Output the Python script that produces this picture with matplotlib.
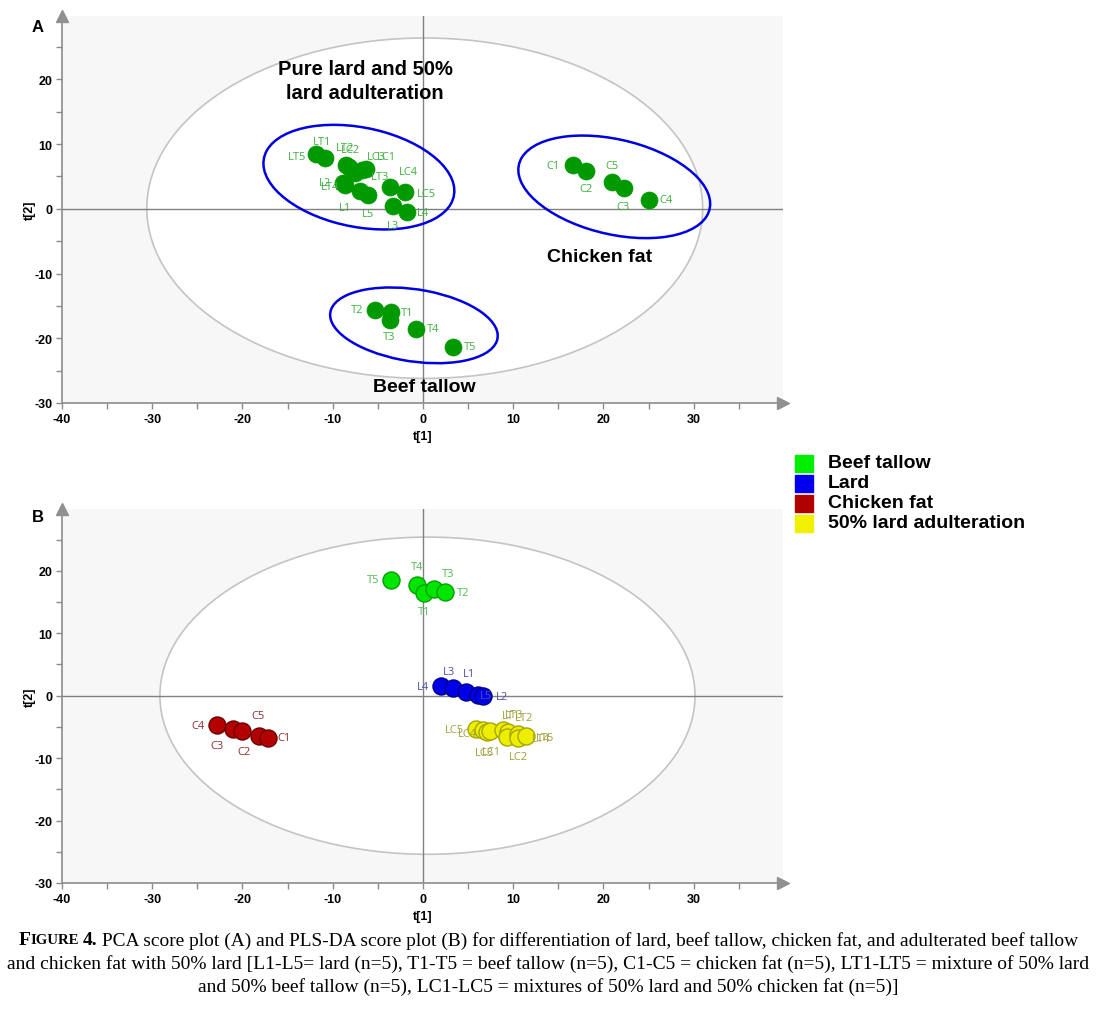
import numpy as np
import matplotlib
matplotlib.use("Agg")
import matplotlib.pyplot as plt
from matplotlib.patches import Ellipse, Rectangle

plt.rcParams["axes.unicode_minus"] = False

# ---- panel A (PCA) scores ----
pca_names = ["LT5", "LT1", "LT2", "LC2", "LC1", "LC3", "LT3", "L2", "LT4", "L1",
             "L5", "L3", "L4", "LC4", "LC5",
             "T2", "T1", "T3", "T4", "T5",
             "C1", "C2", "C5", "C3", "C4"]
pca_t1 = [-11.8, -10.8, -8.5, -8.2, -6.3, -6.8, -7.5, -8.9, -8.65, -7.0,
          -6.1, -3.3, -1.8, -3.7, -2.0,
          -5.3, -3.5, -3.7, -0.8, 3.3,
          16.6, 18.1, 20.9, 22.3, 25.0]
pca_t2 = [8.4, 7.8, 6.7, 6.4, 6.2, 6.0, 5.6, 4.0, 3.7, 2.8,
          2.1, 0.5, -0.5, 3.4, 2.6,
          -15.6, -16.0, -17.2, -18.5, -21.3,
          6.7, 5.9, 4.1, 3.2, 1.4]

# ---- panel B (PLS-DA) scores ----
tallow_names = ["T5", "T4", "T1", "T3", "T2"]
tallow_t1 = [-3.5, -0.7, 0.1, 1.2, 2.4]
tallow_t2 = [18.6, 17.8, 16.4, 17.1, 16.6]

lard_names = ["L4", "L3", "L1", "L5", "L2"]
lard_t1 = [2.05, 3.3, 4.8, 6.1, 6.65]
lard_t2 = [1.55, 1.3, 0.6, 0.15, -0.05]

chicken_names = ["C4", "C3", "C2", "C5", "C1"]
chicken_t1 = [-22.8, -21.0, -20.0, -18.2, -17.2]
chicken_t2 = [-4.75, -5.4, -5.65, -6.45, -6.7]

adult_names = ["LC5", "LC4", "LC3", "LC1", "LT3", "LT1", "LC2", "LT2", "LT5", "LT4"]
adult_t1 = [5.9, 6.65, 7.1, 7.4, 8.85, 9.4, 9.3, 10.5, 10.5, 11.45]
adult_t2 = [-5.3, -5.45, -5.8, -5.7, -5.55, -5.8, -6.6, -6.1, -6.8, -6.45]

# label offsets (points), same order as the names above
pca_off = [(-14, -1.5), (-2.5, 12), (-1, 13), (1, 13), (15, 9), (10.5, 9.5),
           (18, -2.5), (-12.5, 0), (-10.5, -1), (-11, -12), (0, -13), (0, -14.5),
           (12, -0.5), (13.5, 11), (15.5, -1),
           (-13, 0), (11, 0), (0, -12), (12.5, 0), (12.5, 0),
           (-14, 0), (0, -13), (0, 12), (-1, -13.5), (12.5, 0)]
tallow_off = [(-13, 0), (0, 13), (0, -13), (10.5, 11), (13, 0)]
lard_off = [(-13.5, 0), (-2.4, 11.7), (2, 13.4), (5.5, -0.5), (14, 0)]
chicken_off = [(-13.5, 0), (-11.5, -11.5), (1, -14.5), (-0.7, 15), (12, 0)]
adult_off = [(-15.5, -0.5), (-11, -2.4), (-1.5, -14.5), (1, -14.5), (8.4, 11.3),
             (2.4, 11.5), (8, -14.4), (4.8, 12), (20, 0.5), (10.8, -1.7)]

SANS = "Liberation Sans"
LBL_FONT = "Open Sans"
AX_GREY = "#8c8c8c"
BG = "#f7f7f7"

fig = plt.figure(figsize=(10.98, 10.12), dpi=100)


def style_axes(ax, ylim, height_px):
    ax.set_facecolor(BG)
    ax.set_xlim(-40, 39.9)
    ax.set_ylim(*ylim)
    ax.set_xticks(range(-40, 31, 10))
    ax.set_xticks(range(-35, 36, 10), minor=True)
    ax.set_yticks(range(-30, 21, 10))
    ax.set_yticks(range(-25, 26, 10), minor=True)
    for sp in ("top", "right"):
        ax.spines[sp].set_visible(False)
    for sp in ("left", "bottom"):
        ax.spines[sp].set_color(AX_GREY)
        ax.spines[sp].set_linewidth(1.2)
    ax.tick_params(which="both", direction="out", length=4, width=1,
                   color=AX_GREY, pad=3)
    for lab in ax.get_xticklabels() + ax.get_yticklabels():
        lab.set_fontweight("bold")
        lab.set_fontsize(9)
        lab.set_family(SANS)
    ax.axhline(0, color="#808080", lw=1, zorder=1)
    ax.axvline(0, color="#808080", lw=1, zorder=1)
    ax.plot([0], [1], marker="^", ms=9, color="#909090", transform=ax.transAxes,
            clip_on=False, zorder=5)
    ax.plot([1], [0], marker=">", ms=9, color="#909090", transform=ax.transAxes,
            clip_on=False, zorder=5)
    ax.set_xlabel("t[1]", fontsize=9, fontweight="bold", family=SANS)
    ax.set_ylabel("t[2]", fontsize=9, fontweight="bold", family=SANS)
    ax.xaxis.set_label_coords(0.5, -27 / height_px)
    ax.yaxis.set_label_coords(-26 / 721, 0.5)


def label_points(ax, names, xs, ys, offs, color):
    for n, x, y, o in zip(names, xs, ys, offs):
        ax.annotate(n, (x, y), xytext=o, textcoords="offset points",
                    ha="center", va="center", fontsize=8, color=color,
                    family=LBL_FONT, zorder=6)


# ---------------- panel A ----------------
axA = fig.add_axes([62 / 1098, 1 - 404 / 1012, 721 / 1098, 387 / 1012])
style_axes(axA, (-30, 29.8), 387)
axA.add_patch(Ellipse((0.2, 0.1), 61.6, 52.6, facecolor="white",
                      edgecolor="#c4c4c4", lw=1.2, zorder=0))
axA.add_patch(Ellipse((-7.1, 4.9), 22.0, 15.0, angle=-22, fill=False,
                      edgecolor="#0000e0", lw=1.8, zorder=2))
axA.add_patch(Ellipse((21.2, 3.4), 22.4, 14.2, angle=-24, fill=False,
                      edgecolor="#0000e0", lw=1.8, zorder=2))
axA.add_patch(Ellipse((-1.0, -18.0), 19.0, 11.0, angle=-15, fill=False,
                      edgecolor="#0000e0", lw=1.8, zorder=2))
axA.scatter(pca_t1, pca_t2, s=150, color="#009900", edgecolors="#009900",
            linewidths=0.5, zorder=4)
label_points(axA, pca_names, pca_t1, pca_t2, pca_off, "#40b040")
axA.text(-6.4, 19.8, "Pure lard and 50%\nlard adulteration", ha="center",
         va="center", fontsize=14.5, fontweight="bold", family=SANS,
         linespacing=1.35, zorder=7)
axA.text(19.6, -7.3, "Chicken fat", ha="center", va="center", fontsize=14,
         fontweight="bold", family=SANS, zorder=7)
axA.text(0.1, -27.4, "Beef tallow", ha="center", va="center", fontsize=14,
         fontweight="bold", family=SANS, zorder=7)

# ---------------- panel B ----------------
axB = fig.add_axes([62 / 1098, 1 - 884 / 1012, 721 / 1098, 374 / 1012])
style_axes(axB, (-30, 29.9), 374)
axB.add_patch(Ellipse((0.5, 0.0), 59.3, 50.8, facecolor="white",
                      edgecolor="#c4c4c4", lw=1.2, zorder=0))
axB.scatter(tallow_t1, tallow_t2, s=150, color="#00e600", edgecolors="#00a000",
            linewidths=1, zorder=4)
axB.scatter(lard_t1, lard_t2, s=150, color="#0000e6", edgecolors="#00008c",
            linewidths=1, zorder=4)
axB.scatter(chicken_t1, chicken_t2, s=150, color="#b30000", edgecolors="#6e0000",
            linewidths=1, zorder=4)
axB.scatter(adult_t1, adult_t2, s=150, color="#eeee00", edgecolors="#a6a600",
            linewidths=1, zorder=4)
label_points(axB, tallow_names, tallow_t1, tallow_t2, tallow_off, "#50bb50")
label_points(axB, lard_names, lard_t1, lard_t2, lard_off, "#5050a8")
label_points(axB, chicken_names, chicken_t1, chicken_t2, chicken_off, "#8b3030")
label_points(axB, adult_names, adult_t1, adult_t2, adult_off, "#a0a040")

# panel letters
fig.text(38 / 1098, 1 - 27 / 1012, "A", fontsize=12, fontweight="bold",
         family=SANS, ha="center", va="center")
fig.text(38 / 1098, 1 - 518 / 1012, "B", fontsize=12, fontweight="bold",
         family=SANS, ha="center", va="center")

# legend
legend_labels = ["Beef tallow", "Lard", "Chicken fat", "50% lard adulteration"]
legend_colors = ["#00ee00", "#0000ee", "#b00000", "#f0f000"]
for i, (lab, col) in enumerate(zip(legend_labels, legend_colors)):
    yc = 464 + i * 20
    fig.patches.append(Rectangle((795 / 1098, 1 - (yc + 8.5) / 1012),
                                 17.5 / 1098, 17 / 1012, color=col,
                                 transform=fig.transFigure, figure=fig))
    fig.text(828 / 1098, 1 - yc / 1012, lab, fontsize=14, fontweight="bold",
             family=SANS, va="center", ha="left")

# caption
SERIF = "Liberation Serif"
CAP = 14.0
renderer = fig.canvas.get_renderer()


def caption_line(segments, yc):
    texts = []
    for s, size, weight, gap in segments:
        t = fig.text(0, yc, s, fontsize=size, fontweight=weight, family=SERIF,
                     va="center", ha="left")
        texts.append((t, gap))
    widths = [t.get_window_extent(renderer).width for t, _ in texts]
    gaps = [g for _, g in texts]
    total = sum(widths) + sum(gaps)
    x = 548 - total / 2
    for (t, g), w in zip(texts, widths):
        t.set_x(x / 1098)
        x += w + g


sp = CAP * 0.22 / 0.72
caption_line([("F", CAP, "bold", 0),
              ("IGURE", CAP * 0.76, "bold", sp),
              ("4.", CAP, "bold", sp),
              ("PCA score plot (A) and PLS-DA score plot (B) for differentiation "
               "of lard, beef tallow, chicken fat, and adulterated beef tallow",
               CAP * 0.995, "normal", 0)], 1 - 941 / 1012)
caption_line([("and chicken fat with 50% lard [L1-L5= lard (n=5), T1-T5 = beef "
               "tallow (n=5), C1-C5 = chicken fat (n=5), LT1-LT5 = mixture of 50% lard",
               CAP, "normal", 0)], 1 - 964 / 1012)
caption_line([("and 50% beef tallow (n=5), LC1-LC5 = mixtures of 50% lard and 50% "
               "chicken fat (n=5)]", CAP, "normal", 0)], 1 - 987 / 1012)

fig.savefig("out.png", dpi=100)
